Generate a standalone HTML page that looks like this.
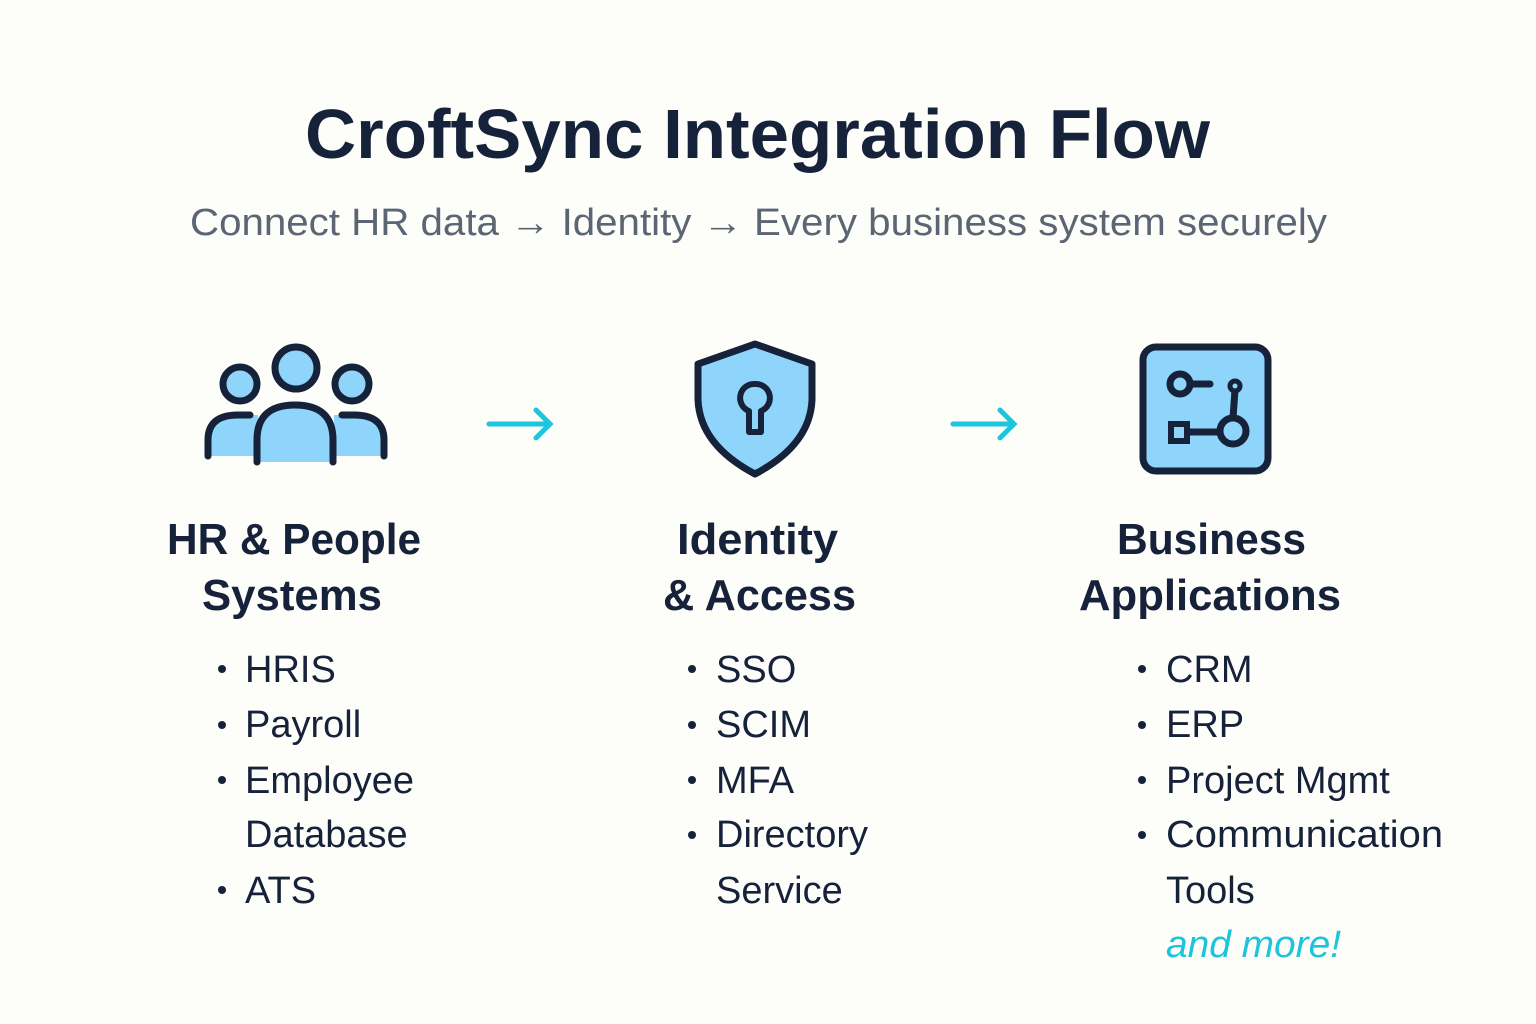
<!DOCTYPE html>
<html><head><meta charset="utf-8"><style>
html,body{margin:0;padding:0;background:#fdfdf9;}
svg{display:block;}
text{font-family:"Liberation Sans",sans-serif;}
</style></head><body>
<svg width="1536" height="1024" viewBox="0 0 1536 1024" xmlns="http://www.w3.org/2000/svg">
<rect width="1536" height="1024" fill="#fdfdf9"/>
<text x="305" y="158" font-size="70" font-weight="bold" fill="#16213a" textLength="905" lengthAdjust="spacingAndGlyphs">CroftSync Integration Flow</text>
<text x="190" y="235" font-size="38" fill="#5b6573" textLength="1137" lengthAdjust="spacingAndGlyphs">Connect HR data → Identity → Every business system securely</text>

<!-- people icon -->
<g stroke="#16213a" stroke-width="7" fill="#8fd5fb" stroke-linecap="round">
<path d="M208 456 L208 440 Q208 415 238 415 L258 415 L258 456 Z" stroke="none"/>
<path d="M384 456 L384 440 Q384 415 354 415 L334 415 L334 456 Z" stroke="none"/>
<path d="M208 456 L208 440 Q208 415 238 415 L250 415" fill="none"/>
<path d="M384 456 L384 440 Q384 415 354 415 L342 415" fill="none"/>
<path d="M257 462 L257 440 Q257 405 295 405 Q333 405 333 440 L333 462" />
<circle cx="296" cy="368" r="21"/>
<circle cx="240" cy="384" r="17"/>
<circle cx="352" cy="384" r="17"/>
</g>
<!-- shield -->
<g stroke="#16213a" stroke-width="7" stroke-linejoin="round">
<path d="M755 344 L812 364 L812 400 Q810 445 755 474 Q700 445 698 400 L698 364 Z" fill="#8fd5fb"/>
<path d="M755 384 a14 14 0 0 1 6 27 L761 432 L749 432 L749 411 a14 14 0 0 1 6 -27 Z" fill="#8fd5fb" stroke-width="6"/>
</g>
<!-- apps box -->
<g stroke="#16213a" stroke-width="7" fill="#8fd5fb" stroke-linecap="round">
<rect x="1143" y="347" width="125" height="124" rx="13"/>
<line x1="1190" y1="384" x2="1210" y2="384"/>
<circle cx="1180" cy="384" r="10"/>
<line x1="1235" y1="390" x2="1233" y2="418"/>
<circle cx="1235" cy="386" r="5" stroke-width="5"/>
<line x1="1188" y1="432" x2="1220" y2="432"/>
<circle cx="1233" cy="431" r="13"/>
<rect x="1171" y="424" width="16" height="17" stroke-width="6"/>
</g>
<!-- arrows -->
<g stroke="#1cc4dc" stroke-width="5" fill="none" stroke-linecap="round">
<line x1="489" y1="424" x2="549" y2="424"/>
<path d="M536 410 L550 424 L536 438"/>
<line x1="953" y1="424" x2="1013" y2="424"/>
<path d="M1000 410 L1014 424 L1000 438"/>
</g>

<!-- headings -->
<g font-size="44" font-weight="bold" fill="#16213a">
<text x="167" y="554" textLength="254" lengthAdjust="spacingAndGlyphs">HR &amp; People</text>
<text x="202" y="610" textLength="180" lengthAdjust="spacingAndGlyphs">Systems</text>
<text x="677" y="554" textLength="161" lengthAdjust="spacingAndGlyphs">Identity</text>
<text x="663" y="610" textLength="193" lengthAdjust="spacingAndGlyphs">&amp; Access</text>
<text x="1117" y="554" textLength="189" lengthAdjust="spacingAndGlyphs">Business</text>
<text x="1079" y="610" textLength="262" lengthAdjust="spacingAndGlyphs">Applications</text>
</g>

<!-- lists -->
<g font-size="38" fill="#16213a">
<circle cx="222" cy="669" r="4"/><text x="245" y="682">HRIS</text>
<circle cx="222" cy="725" r="4"/><text x="245" y="737">Payroll</text>
<circle cx="222" cy="780" r="4"/><text x="245" y="793">Employee</text>
<text x="245" y="847">Database</text>
<circle cx="222" cy="890" r="4"/><text x="245" y="903">ATS</text>

<circle cx="692" cy="669" r="4"/><text x="716" y="682">SSO</text>
<circle cx="692" cy="725" r="4"/><text x="716" y="737">SCIM</text>
<circle cx="692" cy="780" r="4"/><text x="716" y="793">MFA</text>
<circle cx="692" cy="835" r="4"/><text x="716" y="847">Directory</text>
<text x="716" y="903">Service</text>

<circle cx="1142" cy="669" r="4"/><text x="1166" y="682">CRM</text>
<circle cx="1142" cy="725" r="4"/><text x="1166" y="737">ERP</text>
<circle cx="1142" cy="780" r="4"/><text x="1166" y="793">Project Mgmt</text>
<circle cx="1142" cy="835" r="4"/><text x="1166" y="847" textLength="277" lengthAdjust="spacingAndGlyphs">Communication</text>
<text x="1166" y="903">Tools</text>
<text x="1166" y="957" font-style="italic" fill="#1cc4dc" textLength="175" lengthAdjust="spacingAndGlyphs">and more!</text>
</g>
</svg>
</body></html>
